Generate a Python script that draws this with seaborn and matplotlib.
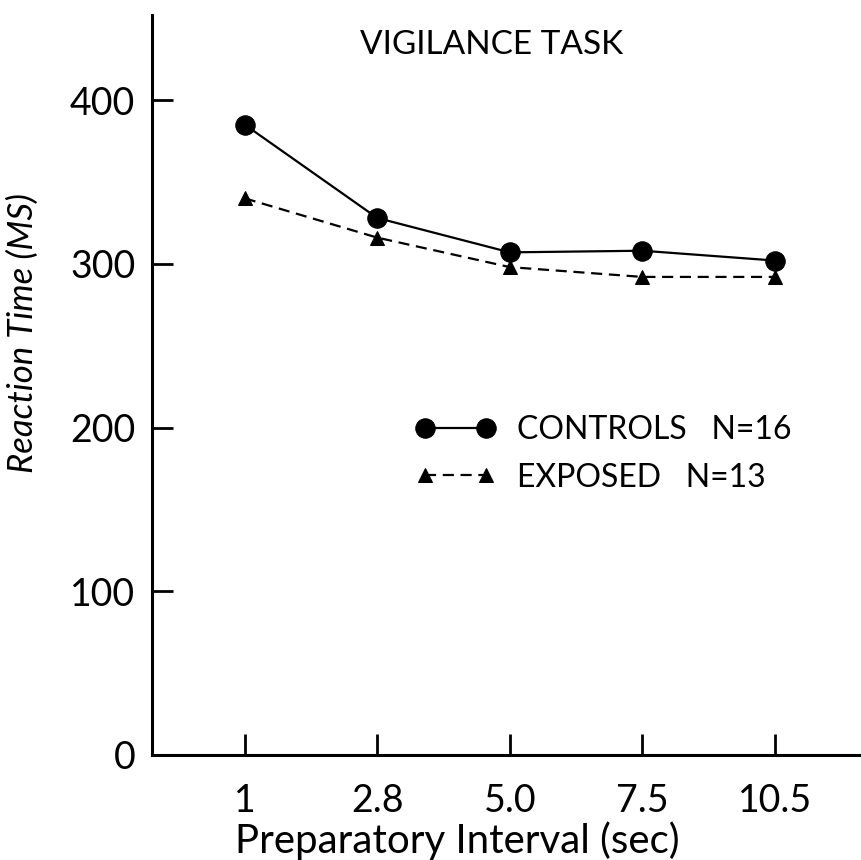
import matplotlib
matplotlib.use("Agg")
import matplotlib.pyplot as plt
import seaborn as sns
import pandas as pd

# Preparatory interval categories (seconds) and mean reaction times (ms)
intervals = ["1", "2.8", "5.0", "7.5", "10.5"]
controls_rt = [385, 328, 307, 308, 302]
exposed_rt = [340, 316, 298, 292, 292]
groups = ["CONTROLS   N=16", "EXPOSED   N=13"]
y_ticks = [0, 100, 200, 300, 400]

df = pd.DataFrame({
    "interval": intervals * 2,
    "rt": controls_rt + exposed_rt,
    "group": [groups[0]] * len(intervals) + [groups[1]] * len(intervals),
})

sns.set_theme(style="white")
plt.rcParams["font.family"] = ["Lato", "DejaVu Sans"]
plt.rcParams["xtick.direction"] = "in"
plt.rcParams["ytick.direction"] = "in"

fig = plt.figure(figsize=(8.61, 8.60), dpi=100)
ax = fig.add_axes([0.1765, 0.1221, 0.822, 0.8605])

sns.lineplot(
    data=df, x="interval", y="rt", hue="group", style="group",
    palette=["black", "black"],
    markers={groups[0]: "o", groups[1]: "^"},
    dashes={groups[0]: "", groups[1]: (5, 3)},
    markersize=0, linewidth=1.6, ax=ax, legend=False, sort=False,
)
# re-style the marks per series
for line, ms, mk in zip(ax.lines, [14, 10], ["o", "^"]):
    line.set_marker(mk)
    line.set_markersize(ms)
    line.set_markerfacecolor("black")
    line.set_markeredgecolor("black")

ax.set_xlim(-0.70, 4.64)
ax.set_ylim(0, 452)
ax.set_yticks(y_ticks)
ax.set_xticks(range(len(intervals)))
ax.set_xticklabels(intervals)

for s in ["top", "right"]:
    ax.spines[s].set_visible(False)
for s in ["left", "bottom"]:
    ax.spines[s].set_linewidth(2.2)
    ax.spines[s].set_color("black")

ax.tick_params(axis="y", direction="in", length=15, width=2,
               labelsize=27, pad=12, colors="black", left=True)
ax.tick_params(axis="x", direction="in", length=15, width=2,
               labelsize=27, pad=20, colors="black", bottom=True)

ax.set_xlabel("Preparatory Interval (sec)", fontsize=29, color="black")
ax.xaxis.set_label_coords(0.431, -0.09)
ax.set_ylabel("Reaction Time (MS)", fontsize=25, fontstyle="italic",
              color="black")
ax.yaxis.set_label_coords(-0.16, 0.57)

ax.text(0.48, 0.96, "VIGILANCE TASK", transform=ax.transAxes,
        ha="center", va="center", fontsize=24, color="black")

handles = ax.lines[:2]
leg = ax.legend(handles, groups, numpoints=2, frameon=False,
                loc="center left", bbox_to_anchor=(0.372, 0.407),
                prop={"size": 23},
                handlelength=2.5, handletextpad=0.7,
                labelspacing=0.55, borderpad=0, borderaxespad=0)
for t in leg.get_texts():
    t.set_color("black")

fig.savefig("out.png", dpi=100, facecolor="white")
